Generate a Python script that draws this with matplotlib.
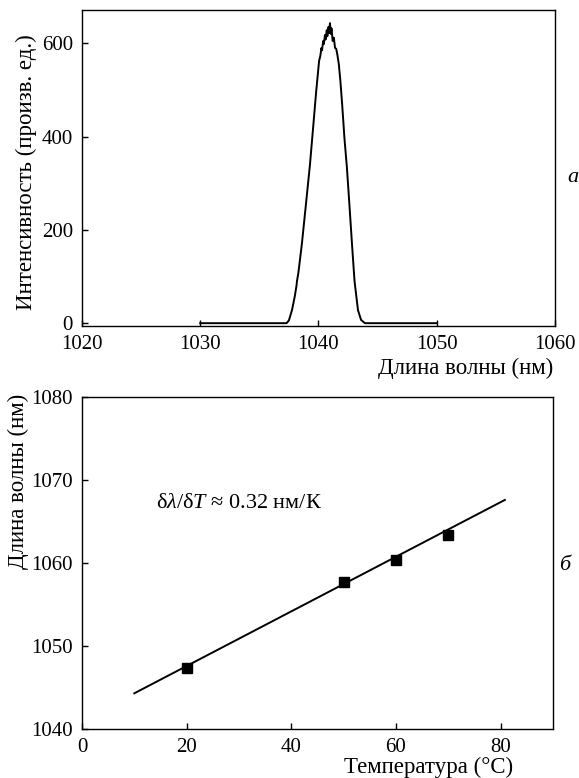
import matplotlib
matplotlib.use("Agg")
import matplotlib.pyplot as plt

plt.rcParams["font.family"] = "Liberation Serif"
plt.rcParams["mathtext.fontset"] = "custom"
plt.rcParams["mathtext.rm"] = "Liberation Serif"
plt.rcParams["mathtext.it"] = "Liberation Serif:italic"

# Spectrum (top panel)
wavelength = [1030, 1037.3, 1037.5, 1037.76, 1038.0, 1038.15, 1038.18, 1038.3, 1038.6,
              1038.9, 1039.28, 1039.6, 1039.8, 1039.95, 1040.05, 1040.15, 1040.25,
              1040.3, 1040.4, 1040.45, 1040.55, 1040.6, 1040.7, 1040.75, 1040.85,
              1040.9, 1040.97, 1041.05, 1041.1, 1041.2, 1041.3, 1041.4, 1041.5,
              1041.6, 1041.72, 1041.85, 1042.0, 1042.2, 1042.4, 1042.6, 1042.83, 1043.05,
              1043.34, 1043.6, 1043.93, 1050]
intensity = [0, 0, 6, 28, 58, 82, 90, 108, 171,
             245, 340, 435, 495, 535, 562, 572, 590,
             585, 605, 598, 618, 608, 628, 615, 635,
             622, 643, 620, 632, 605, 612, 590, 588,
             575, 555, 520, 470, 395, 335, 260, 171, 90,
             28, 7, 0, 0]

# Peak wavelength vs temperature (bottom panel)
temperature = [20, 50, 60, 70]
peak_wl = [1047.4, 1057.7, 1060.4, 1063.4]
fit_t = [10, 80.8]
fit_wl = [1044.3, 1067.6]

fig = plt.figure(figsize=(5.79, 7.78), dpi=100)

# ---- top panel ----
ax1 = fig.add_axes([0.1416, 0.581, 0.8169, 0.406])
ax1.plot(wavelength, intensity, color="black", lw=1.4)
ax1.set_xlim(1020, 1060)
ax1.set_ylim(-6, 671)
ax1.set_xticks([1020, 1030, 1040, 1050, 1060])
ax1.set_yticks([0, 200, 400, 600])
ax1.tick_params(direction="in", length=4, width=1, labelsize=15)
ax1.tick_params(axis="x", pad=6.5)
ax1.tick_params(axis="y", pad=6.5)
ax1.set_ylabel("Интенсивность (произв. ед.)", fontsize=16.5)
ax1.yaxis.set_label_coords(-0.095, 0.487)
ax1.set_xlabel("Длина волны (нм)", fontsize=16.5, loc="right")
ax1.xaxis.set_label_coords(0.996, -0.1)
for s in ax1.spines.values():
    s.set_linewidth(1.0)

# ---- bottom panel ----
ax2 = fig.add_axes([0.1416, 0.063, 0.8135, 0.4267])
ax2.plot(fit_t, fit_wl, color="black", lw=1.4)
ax2.plot(temperature, peak_wl, "s", color="black", markersize=6.5)
ax2.set_xlim(0, 90)
ax2.set_ylim(1040, 1080)
ax2.set_xticks([0, 20, 40, 60, 80])
ax2.set_yticks([1040, 1050, 1060, 1070, 1080])
ax2.tick_params(direction="in", length=4, width=1, labelsize=15)
ax2.tick_params(axis="x", pad=6.5)
ax2.tick_params(axis="y", pad=6.5)
ax2.set_xlabel("Температура (°C)", fontsize=16.5, loc="right")
ax2.xaxis.set_label_coords(0.915, -0.084)
ax2.set_ylabel("Длина волны (нм)", fontsize=16.5)
ax2.yaxis.set_label_coords(-0.1125, 0.747)
for s in ax2.spines.values():
    s.set_linewidth(1.0)

ax2.text(14.2, 1067.2, r"$\mathrm{\delta}\lambda/\mathrm{\delta}T$ ≈ 0.32 нм/К",
         fontsize=16, va="center", ha="left")

# panel letters
fig.text(573 / 579, 1 - 177 / 778, "а", fontsize=16, style="italic", ha="center", va="center")
fig.text(565 / 579, 1 - 565 / 778, "б", fontsize=16, style="italic", ha="center", va="center")

fig.savefig("out.png", dpi=100)
